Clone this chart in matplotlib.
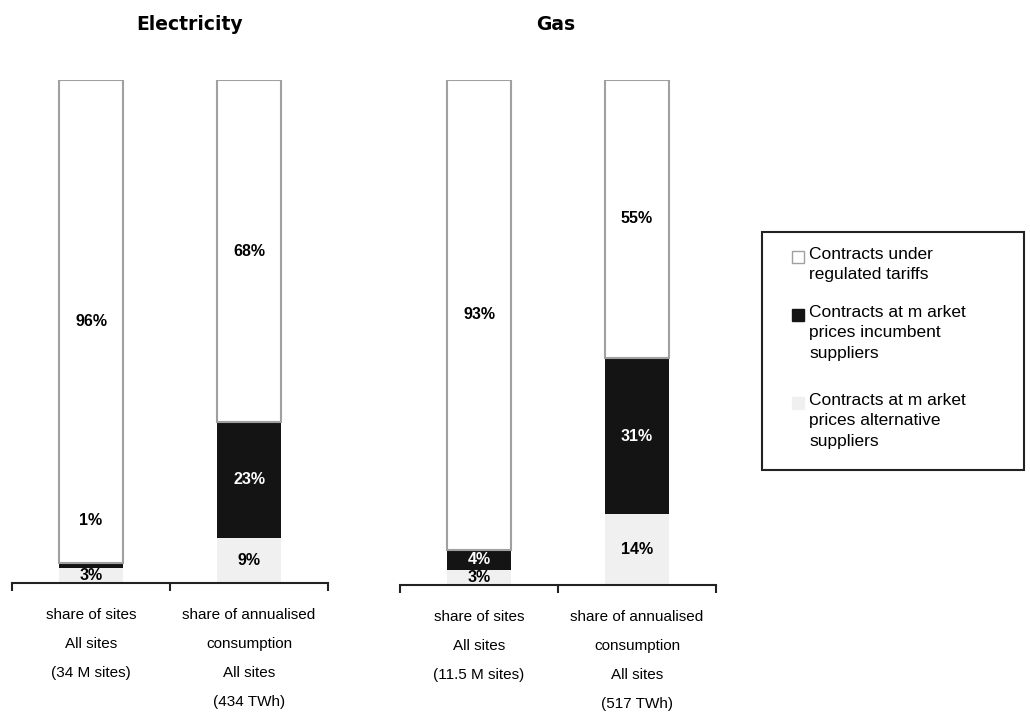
import matplotlib.pyplot as plt
from matplotlib.patches import Rectangle

# data
categories_elec = ["share of sites\nAll sites\n(34 M sites)",
                   "share of annualised\nconsumption\nAll sites\n(434 TWh)"]
categories_gas = ["share of sites\nAll sites\n(11.5 M sites)",
                  "share of annualised\nconsumption\nAll sites\n(517 TWh)"]
elec_alternative = [3, 9]
elec_incumbent = [1, 23]
elec_regulated = [96, 68]
gas_alternative = [3, 14]
gas_incumbent = [4, 31]
gas_regulated = [93, 55]
legend_labels = ["Contracts under\nregulated tariffs",
                 "Contracts at m arket\nprices incumbent\nsuppliers",
                 "Contracts at m arket\nprices alternative\nsuppliers"]

W, H = 1030, 714
fig = plt.figure(figsize=(W / 100, H / 100), dpi=100)
fig.patch.set_facecolor("white")

c_black = "#141414"
c_light = "#f0f0f0"
c_edge = "#a0a0a0"
font = "Liberation Sans"


def draw_panel(rect, cats, alt, inc, reg, title, title_x, label_shift):
    ax = fig.add_axes(rect)
    x = range(len(cats))
    w = 0.405
    ax.bar(x, alt, w, color=c_light, linewidth=0)
    ax.bar(x, inc, w, bottom=alt, color=c_black, linewidth=0)
    b2 = [a + b for a, b in zip(alt, inc)]
    ax.bar(x, reg, w, bottom=b2, color="white", edgecolor=c_edge, linewidth=1.5)
    for i in x:
        segs = [(alt[i], 0, "black"), (inc[i], alt[i], "white"), (reg[i], b2[i], "black")]
        for k, (v, b, col) in enumerate(segs):
            dy = label_shift.get((i, k), 0)
            if dy:
                col = "black"  # moved above the bar segment, on white
            ax.annotate(f"{v}%", (i, b + v / 2), xytext=(0, dy), textcoords="offset points",
                        ha="center", va="center", color=col, fontsize=11.5,
                        fontweight="bold", family=font)
    ax.set_xlim(-0.5, 1.5)
    ax.set_ylim(0, 100)
    for s in ["top", "left", "right"]:
        ax.spines[s].set_visible(False)
    ax.spines["bottom"].set_linewidth(1.5)
    ax.spines["bottom"].set_color("#222222")
    ax.set_yticks([])
    ax.set_xticks([-0.5, 0.5, 1.5])
    ax.set_xticklabels([])
    ax.tick_params(axis="x", which="major", direction="out", length=6, width=1.5, color="#222222")
    ax.set_xticks([0, 1], minor=True)
    ax.set_xticklabels(cats, minor=True, fontsize=11, family=font, linespacing=2.35)
    ax.tick_params(axis="x", which="minor", length=0, pad=18)
    fig.text(title_x / W, 1 - 25 / H, title, ha="center", va="center",
             fontsize=13.5, fontweight="bold", family="DejaVu Sans")
    return ax


draw_panel([12 / W, 1 - 583 / H, 316 / W, 503 / H], categories_elec,
           elec_alternative, elec_incumbent, elec_regulated, "Electricity", 190,
           {(0, 1): 32})
draw_panel([400 / W, 1 - 585 / H, 316 / W, 505 / H], categories_gas,
           gas_alternative, gas_incumbent, gas_regulated, "Gas", 556, {})

# legend box
fig.patches.append(Rectangle((762 / W, 1 - 470 / H), 262 / W, 238 / H,
                             transform=fig.transFigure, facecolor="white",
                             edgecolor="#222222", linewidth=1.5))
markers = [("white", c_edge), (c_black, c_black), (c_light, c_light)]
tops = [247, 305, 393]
for (fc, ec), lab, t in zip(markers, legend_labels, tops):
    fig.patches.append(Rectangle((792 / W, 1 - (t + 16) / H), 12 / W, 12 / H,
                                 transform=fig.transFigure, facecolor=fc,
                                 edgecolor=ec, linewidth=1))
    fig.text(809 / W, 1 - t / H, lab, ha="left", va="top", fontsize=12.5,
             family=font, linespacing=1.45)

fig.savefig("out.png", dpi=100)
